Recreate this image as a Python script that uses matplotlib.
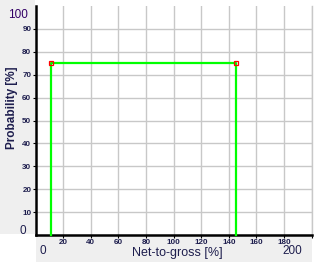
import matplotlib
matplotlib.use("Agg")
import matplotlib.pyplot as plt
from matplotlib.patches import Rectangle

# Data
step_x = [11, 11, 145, 145]
step_y = [0, 75, 75, 0]
marker_x = [11, 145]
marker_y = [75, 75]
x_ticks = [20, 40, 60, 80, 100, 120, 140, 160, 180]
y_ticks = [10, 20, 30, 40, 50, 60, 70, 80, 90]
x_label = "Net-to-gross [%]"
y_label = "Probability [%]"

W, H = 324, 264
fig = plt.figure(figsize=(W / 100, H / 100), dpi=100)
fig.patch.set_facecolor("white")
txt = "#1e1e4e"

# gray panels
fig.add_artist(Rectangle((0, (H - 234) / H), 35 / W, 234 / H, transform=fig.transFigure,
                         facecolor="#efefef", edgecolor="none", zorder=0))
fig.add_artist(Rectangle((36 / W, 2 / H), 276 / W, 34 / H, transform=fig.transFigure,
                         facecolor="#efefef", edgecolor="none", zorder=0))

x0, x1 = 35.5, 311.6
y0, y1 = 6, 235
ax = fig.add_axes([x0 / W, (H - y1) / H, (x1 - x0) / W, (y1 - y0) / H])
ax.set_facecolor("white")
ax.set_xlim(0, 200)
ax.set_ylim(0, 100)

ax.set_xticks(x_ticks + [200])
ax.set_xticklabels([str(v) for v in x_ticks] + [""])
ax.set_yticks(y_ticks)
ax.set_yticklabels([str(v) for v in y_ticks])
ax.grid(True, color="#c8c8c8", linewidth=1.0)
ax.set_axisbelow(True)
ax.tick_params(axis="both", length=2, width=0.8, pad=1, labelsize=5.8,
               labelcolor=txt, color="black")
for lbl in ax.get_xticklabels() + ax.get_yticklabels():
    lbl.set_fontweight("bold")
    lbl.set_fontfamily("Liberation Sans")

ax.spines["top"].set_visible(False)
ax.spines["right"].set_color("#c8c8c8")
ax.spines["right"].set_linewidth(1.0)
ax.spines["left"].set_linewidth(1.8)
ax.spines["bottom"].set_linewidth(1.8)

ax.plot(step_x, step_y, color="#00ff00", linewidth=1.6, zorder=3, clip_on=False)
ax.plot(marker_x, marker_y, linestyle="none", marker="s", markersize=3.5,
        markerfacecolor="none", markeredgecolor="red", markeredgewidth=0.9, zorder=4)

# extra labels
fig.text(43 / W, 1 - 251 / H, "0", fontsize=8.5, color=txt, ha="center", va="center",
         family="Liberation Sans")
fig.text(292 / W, 1 - 251.5 / H, "200", fontsize=8.5, color=txt, ha="center", va="center",
         family="Liberation Sans")
fig.text(18 / W, 1 - 15 / H, "100", fontsize=8.5, color="#330066", ha="center", va="center",
         family="Liberation Sans")
fig.text(23 / W, 1 - 231 / H, "0", fontsize=8.5, color=txt, ha="center", va="center",
         family="Liberation Sans")
fig.text(177 / W, 1 - 253 / H, x_label, fontsize=9, color=txt, ha="center", va="center",
         family="Liberation Sans")
fig.text(12 / W, 1 - 108 / H, y_label, fontsize=8.5, fontweight="bold", color=txt,
         ha="center", va="center", rotation=90, family="Liberation Sans")

fig.savefig("out.png", dpi=100)
